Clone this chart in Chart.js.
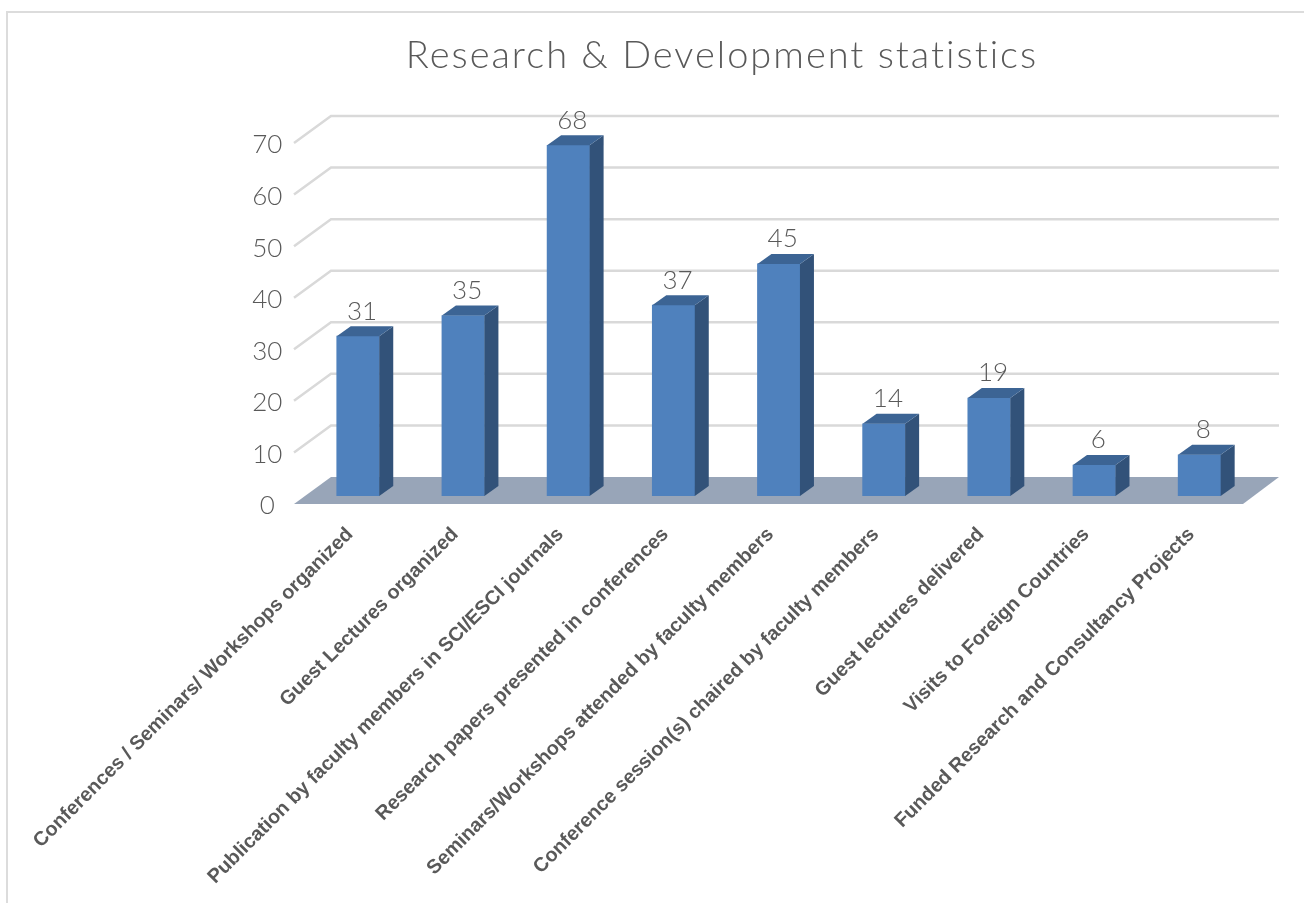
<!DOCTYPE html>
<html>
<head>
<meta charset="utf-8">
<title>Research & Development statistics</title>
<script src="https://cdn.jsdelivr.net/npm/chart.js@4"></script>
<style>
  html, body { margin: 0; padding: 0; background: #fff; overflow: hidden; }
  #frame { position: absolute; left: 6px; top: 11px; width: 1304px; height: 900px;
           border-left: 2px solid #dcdcdc; border-top: 2px solid #dcdcdc; }
  #researchChart { position: absolute; left: 0; top: 0; display: block; }
</style>
</head>
<body>
<div id="frame"></div>
<canvas id="researchChart" width="1304" height="903"></canvas>
<script>
const chartTitle = 'Research & Development statistics';
const categories = [
  'Conferences / Seminars/ Workshops organized',
  'Guest Lectures organized',
  'Publication by faculty members in SCI/ESCI journals',
  'Research papers presented in conferences',
  'Seminars/Workshops attended by faculty members',
  'Conference session(s) chaired by faculty members',
  'Guest lectures delivered',
  'Visits to Foreign Countries',
  'Funded Research and Consultancy Projects'
];
const counts = [31, 35, 68, 37, 45, 14, 19, 6, 8];

const thinFont = 'Lato';
const depthX = 14;
const depthY = 10;

// the 3D look: floor and back wall go behind the bars
const wallPlugin = {
  id: 'wall',
  beforeDatasetsDraw(chart) {
    const ctx = chart.ctx;
    const y = chart.scales.y;
    const left = 294, wallLeft = 331, wallRight = 1279, floorRight = 1243;
    ctx.save();
    ctx.strokeStyle = '#d9d9d9';
    ctx.lineWidth = 2.5;
    y.ticks.forEach(t => {
      if (t.value === 0) return;
      const p = y.getPixelForValue(t.value);
      ctx.beginPath();
      ctx.moveTo(left, p + 8);
      ctx.lineTo(wallLeft, p - 19);
      ctx.lineTo(wallRight, p - 19);
      ctx.stroke();
    });
    const p0 = y.getPixelForValue(0);
    ctx.fillStyle = '#98a5b8';
    ctx.beginPath();
    ctx.moveTo(left, p0 + 8);
    ctx.lineTo(wallLeft, p0 - 19);
    ctx.lineTo(wallRight, p0 - 19);
    ctx.lineTo(floorRight, p0 + 8);
    ctx.closePath();
    ctx.fill();
    ctx.restore();
  },
  afterDatasetsDraw(chart) {
    const ctx = chart.ctx;
    const bars = chart.getDatasetMeta(0).data;
    ctx.save();
    bars.forEach((bar, i) => {
      const l = bar.x - bar.width / 2, r = bar.x + bar.width / 2;
      // side face
      ctx.fillStyle = '#325279';
      ctx.beginPath();
      ctx.moveTo(r, bar.y);
      ctx.lineTo(r + depthX, bar.y - depthY);
      ctx.lineTo(r + depthX, bar.base - depthY);
      ctx.lineTo(r, bar.base);
      ctx.closePath();
      ctx.fill();
      // top face
      ctx.fillStyle = '#3c6494';
      ctx.beginPath();
      ctx.moveTo(l, bar.y);
      ctx.lineTo(l + depthX, bar.y - depthY);
      ctx.lineTo(r + depthX, bar.y - depthY);
      ctx.lineTo(r, bar.y);
      ctx.closePath();
      ctx.fill();
      // value label
      ctx.fillStyle = '#595959';
      ctx.font = '300 26px ' + thinFont;
      ctx.textAlign = 'center';
      ctx.textBaseline = 'middle';
      ctx.fillText(counts[i], bar.x + 4, bar.y - depthY - 15);
    });
    ctx.restore();
  },
  beforeDraw(chart) {
    // the title is spaced out, nothing else is
    const t = chart.titleBlock;
    if (t && !t.spaced) {
      const draw = t.draw;
      t.draw = function () {
        chart.ctx.letterSpacing = '2px';
        draw.call(t);
        chart.ctx.letterSpacing = '0px';
      };
      t.spaced = true;
    }
  }
};

new Chart(document.getElementById('researchChart').getContext('2d'), {
  type: 'bar',
  data: {
    labels: categories,
    datasets: [{
      data: counts,
      backgroundColor: '#4f81bd',
      barThickness: 42.5
    }]
  },
  plugins: [wallPlugin],
  options: {
    responsive: false,
    animation: false,
    devicePixelRatio: 1,
    layout: { padding: { left: 192, right: 52, top: 0, bottom: 0 } },
    plugins: {
      legend: { display: false },
      tooltip: { enabled: false },
      title: {
        display: true,
        text: chartTitle,
        color: '#595959',
        font: { family: thinFont, size: 38, weight: '300' },
        padding: { top: 33, bottom: 56.4 }
      }
    },
    scales: {
      x: {
        grid: { display: false },
        border: { display: false },
        afterFit(scale) { scale.height = 407; },
        ticks: {
          autoSkip: false,
          minRotation: 45,
          maxRotation: 45,
          padding: 19,
          labelOffset: -8,
          color: '#595959',
          font: { family: 'Liberation Sans', size: 19.8, weight: 'bold' }
        }
      },
      y: {
        min: 0,
        max: 70,
        grid: { display: false },
        border: { display: false },
        afterFit(scale) { scale.width = 113.4; },
        ticks: {
          stepSize: 10,
          padding: 15,
          labelOffset: 10,
          crossAlign: 'center',
          color: '#595959',
          font: { family: thinFont, size: 26, weight: '300' }
        }
      }
    }
  }
});
</script>
</body>
</html>
